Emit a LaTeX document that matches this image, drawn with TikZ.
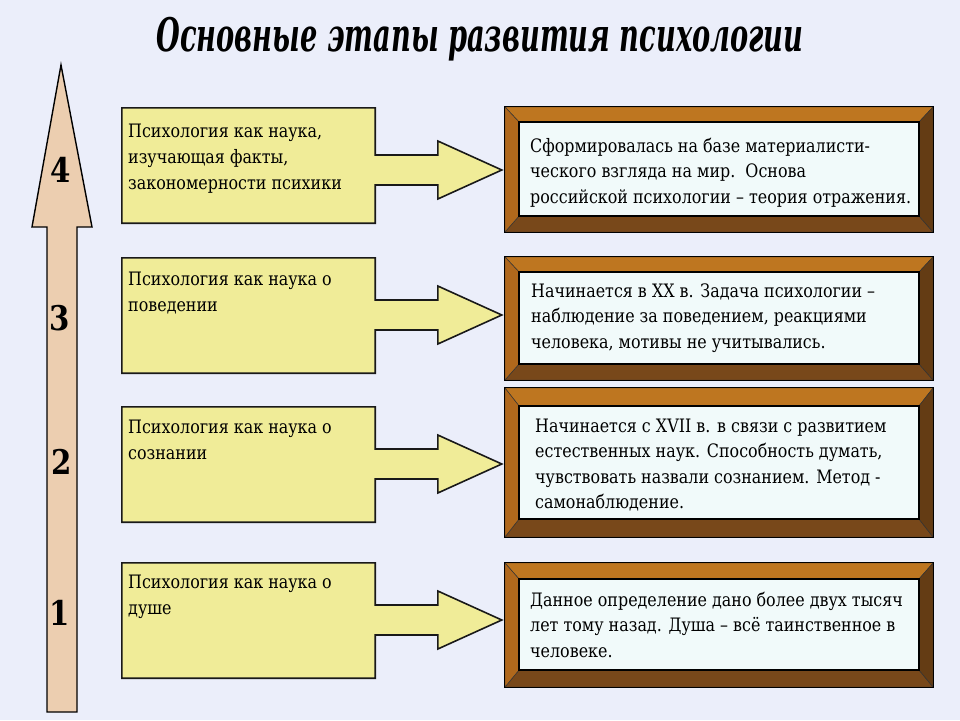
\documentclass[tikz,border=0pt]{standalone}
\usepackage{fontspec}
\setmainfont{DejaVu Serif}[FakeStretch=0.86]
\usetikzlibrary{calc}
\definecolor{bg}{RGB}{235,238,250}
\definecolor{ybox}{RGB}{240,236,152}
\definecolor{tan}{RGB}{236,206,176}
\definecolor{frtop}{RGB}{190,118,32}
\definecolor{frleft}{RGB}{176,104,28}
\definecolor{frbot}{RGB}{120,72,26}
\definecolor{frright}{RGB}{100,60,20}
\definecolor{inner}{RGB}{241,250,250}
\tikzset{
  yshape/.style={fill=ybox,draw=black!90,line width=1.6pt,line join=miter},
  yrect/.style={rectangle,minimum width=253pt,minimum height=115pt,inner sep=0pt},
  outerfr/.style={rectangle,minimum width=428pt,inner sep=0pt},
  innerfr/.style={rectangle,minimum width=398pt,inner sep=0pt,fill=inner,draw=black,line width=1.6pt},
  band/.style={draw=black!80,line width=0.5pt},
  ltext/.style={anchor=north west,inner sep=0pt,align=left,font=\fontsize{18.5}{26}\selectfont},
  rtext/.style={anchor=north west,inner sep=0pt,align=left,font=\fontsize{18.5}{25.5}\selectfont},
  numtext/.style={font=\fontsize{34}{34}\selectfont\bfseries,inner sep=0pt},
}
\newcommand{\myframe}[2]{%
  \fill[frtop,band] (#1.north west) -- (#1.north east) -- (#2.north east) -- (#2.north west) -- cycle;
  \fill[frbot,band] (#1.south west) -- (#1.south east) -- (#2.south east) -- (#2.south west) -- cycle;
  \fill[frleft,band] (#1.north west) -- (#2.north west) -- (#2.south west) -- (#1.south west) -- cycle;
  \fill[frright,band] (#1.north east) -- (#2.north east) -- (#2.south east) -- (#1.south east) -- cycle;
  \draw[line width=1.2pt] (#1.north west) rectangle (#1.south east);
  \draw[innerfr] (#2.north west) rectangle (#2.south east);
}
\newcommand{\myarrow}[2]{%
  \draw[yshape] (#1.north west) -- (#1.north east)
    -- ($(#1.east |- #2)+(0,-15)$) -- ($(#2)+(-64,-15)$) -- ($(#2)+(-64,-29)$)
    -- (#2) -- ($(#2)+(-64,29)$) -- ($(#2)+(-64,15)$) -- ($(#1.east |- #2)+(0,15)$)
    -- (#1.south east) -- (#1.south west) -- cycle;
}
\begin{document}
\begin{tikzpicture}[x=1pt,y=-1pt]
\fill[bg] (0,0) rectangle (960,720);
\useasboundingbox (0,0) rectangle (960,720);

% title
\node (title) at (480,39) {\scalebox{0.72}[1.05]{\fontsize{44}{44}\selectfont\bfseries\itshape Основные этапы развития психологии}};

% big left arrow
\draw[fill=tan,draw=black,line width=1.4pt,line join=miter]
  (61,65) -- (92,227) -- (77,227) -- (77,712) -- (47,712) -- (47,227) -- (32,227) -- cycle;
\node[numtext] (n4) at (61,170) {4};
\node[numtext] (n3) at (60,318) {3};
\node[numtext] (n2) at (62,462) {2};
\node[numtext] (n1) at (60,613) {1};

% yellow boxes
\node[yrect] (l4) at (248.5,165.5) {};
\node[yrect] (l3) at (248.5,315.5) {};
\node[yrect] (l2) at (248.5,464.5) {};
\node[yrect] (l1) at (248.5,620.5) {};

% frames
\node[outerfr,minimum height=125pt] (f4) at (719,169.5) {};
\node[innerfr,minimum height=92pt,fill=none,draw=none] (w4) at (719,169) {};
\node[outerfr,minimum height=123pt] (f3) at (719,318.5) {};
\node[innerfr,minimum height=90pt,fill=none,draw=none] (w3) at (719,318) {};
\node[outerfr,minimum height=149pt] (f2) at (719,462.5) {};
\node[innerfr,minimum height=111pt,fill=none,draw=none] (w2) at (719,462.5) {};
\node[outerfr,minimum height=124pt] (f1) at (719,625) {};
\node[innerfr,minimum height=89pt,fill=none,draw=none] (w1) at (719,624.5) {};

\myframe{f4}{w4}
\myframe{f3}{w3}
\myframe{f2}{w2}
\myframe{f1}{w1}

% arrow tips
\coordinate (t4) at ($(f4.west)+(-3,0.5)$);
\coordinate (t3) at ($(f3.west)+(-3,-3.5)$);
\coordinate (t2) at ($(f2.west)+(-3,1.5)$);
\coordinate (t1) at ($(f1.west)+(-3,-5)$);

\myarrow{l4}{t4}
\myarrow{l3}{t3}
\myarrow{l2}{t2}
\myarrow{l1}{t1}

% left texts
\node[ltext] (a4) at (128,123.5) {Психология как наука,\\изучающая факты,\\закономерности психики};
\node[ltext] (a3) at (128,271.5) {Психология как наука о\\поведении};
\node[ltext] (a2) at (128,419.5) {Психология как наука о\\сознании};
\node[ltext] (a1) at (128,574.5) {Психология как наука о\\душе};

% right texts
\node[rtext] (b4) at (530,137.5) {Сформировалась на базе материалисти-\\ческого взгляда на мир.\ \ Основа\\российской психологии – теория отражения.};
\node[rtext] (b3) at (531,283.5) {Начинается в XX в. Задача психологии –\\наблюдение за поведением, реакциями\\человека, мотивы не учитывались.};
\node[rtext] (b2) at (535,418.5) {Начинается с XVII в. в связи с развитием\\естественных наук. Способность думать,\\чувствовать назвали сознанием. Метод -\\самонаблюдение.};
\node[rtext] (b1) at (530,591.5) {Данное определение дано более двух тысяч\\лет тому назад. Душа – всё таинственное в\\человеке.};
\end{tikzpicture}
\end{document}
